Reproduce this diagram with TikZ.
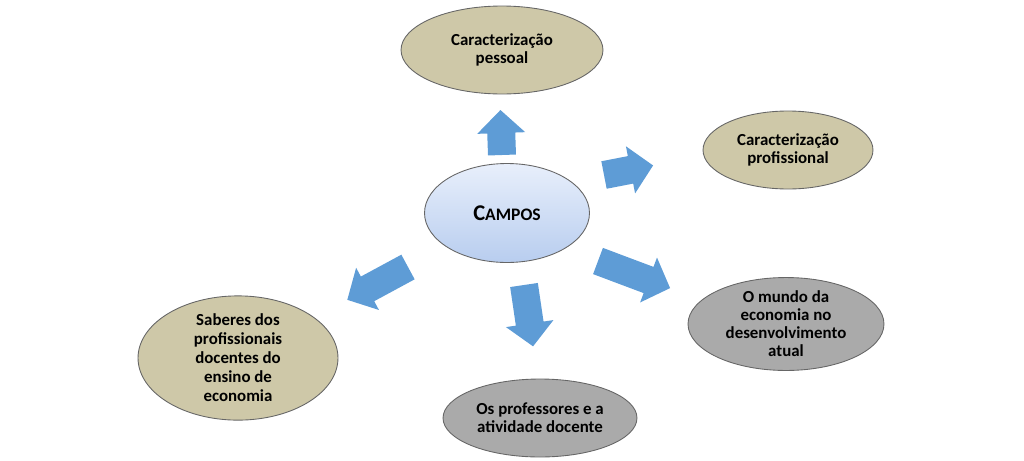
\documentclass[tikz,border=0pt]{standalone}
\usepackage{fontspec}
\setmainfont{Carlito}
\usetikzlibrary{shapes.geometric}

\definecolor{tanfill}{RGB}{206,200,168}
\definecolor{grayfill}{RGB}{170,170,170}
\definecolor{arrowblue}{RGB}{94,156,214}
\definecolor{campotop}{RGB}{232,239,251}
\definecolor{campobottom}{RGB}{184,205,239}

\tikzset{
  campo/.style={ellipse, draw=black!60, line width=0.5pt, inner sep=0pt,
    align=center, font=\bfseries\fontsize{9.6}{10.2}\selectfont},
  tanfield/.style={campo, fill=tanfill},
  grayfield/.style={campo, fill=grayfill},
  pics/blockarrow/.style={code={
    \fill[arrowblue] (0,-14) -- ({#1-23},-14) -- ({#1-23},-24) -- (#1,0)
      -- ({#1-23},24) -- ({#1-23},14) -- (0,14) -- cycle;
  }}
}

\begin{document}
\begin{tikzpicture}[x=0.02cm, y=-0.02cm]
  \useasboundingbox (0,0) rectangle (1024,460);
  % centre of the map
  \node[campo, top color=campotop, bottom color=campobottom,
    minimum width=3.3cm, minimum height=1.98cm] (campos) at (507,213)
    {{\fontsize{12.8}{14}\selectfont C}{\fontsize{10}{12}\selectfont AMPOS}};
  % the five fields around it
  \node[tanfield, minimum width=4.04cm, minimum height=1.76cm] (pessoal) at (502,50)
    {Caracterização\\pessoal};
  \node[tanfield, minimum width=3.4cm, minimum height=1.56cm] (profissional) at (788,150)
    {Caracterização\\profissional};
  \node[grayfield, minimum width=3.92cm, minimum height=1.76cm] (mundo) at (786,324)
    {O mundo da\\economia no\\desenvolvimento\\atual};
  \node[grayfield, minimum width=3.88cm, minimum height=1.56cm] (professores) at (540,418)
    {Os professores e a\\atividade docente};
  \node[tanfield, minimum width=4.0cm, minimum height=1.9cm,
    font=\bfseries\fontsize{9.6}{10.8}\selectfont] (saberes) at (238,358)
    {Saberes dos\\profissionais\\docentes do\\ensino de\\economia};
  % block arrows pointing out of the centre
  \pic[rotate=92] at (502,155) {blockarrow=45};
  \pic[rotate=11] at (604,175) {blockarrow=50};
  \pic[rotate=339.4] at (598,261) {blockarrow=77};
  \pic[rotate=278.4] at (524,285) {blockarrow=62};
  \pic[rotate=208.4] at (408,267) {blockarrow=69};
\end{tikzpicture}
\end{document}
